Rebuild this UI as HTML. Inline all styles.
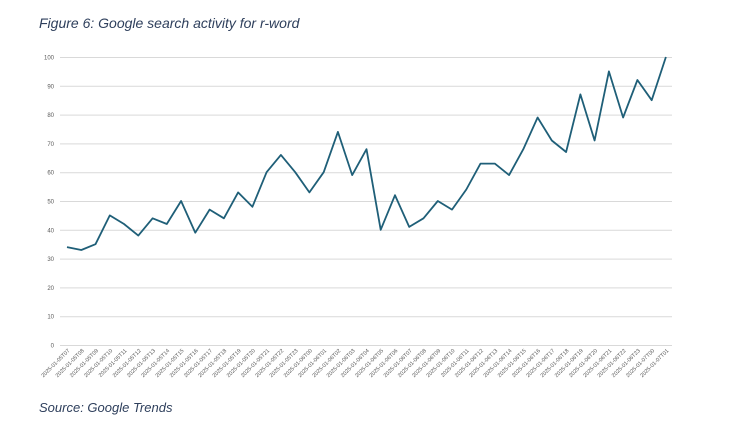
<!DOCTYPE html>
<html><head><meta charset="utf-8"><style>
body{margin:0;background:#fff;width:743px;height:431px;overflow:hidden}
</style></head><body>
<svg width="743" height="431" xmlns="http://www.w3.org/2000/svg" font-family="Liberation Sans, sans-serif">
<text x="39" y="28" font-size="14" font-style="italic" fill="#2e3f5c">Figure 6: Google search activity for r-word</text>
<g stroke="#d9d9d9" stroke-width="1">
<line x1="60" x2="672" y1="345.5" y2="345.5"/><line x1="60" x2="672" y1="316.7" y2="316.7"/><line x1="60" x2="672" y1="287.9" y2="287.9"/><line x1="60" x2="672" y1="259.1" y2="259.1"/><line x1="60" x2="672" y1="230.3" y2="230.3"/><line x1="60" x2="672" y1="201.5" y2="201.5"/><line x1="60" x2="672" y1="172.7" y2="172.7"/><line x1="60" x2="672" y1="143.9" y2="143.9"/><line x1="60" x2="672" y1="115.1" y2="115.1"/><line x1="60" x2="672" y1="86.3" y2="86.3"/><line x1="60" x2="672" y1="57.5" y2="57.5"/>
</g>
<g font-size="6" fill="#595959" text-anchor="end">
<text x="54" y="347.5">0</text><text x="54" y="318.7">10</text><text x="54" y="289.9">20</text><text x="54" y="261.1">30</text><text x="54" y="232.3">40</text><text x="54" y="203.5">50</text><text x="54" y="174.7">60</text><text x="54" y="145.9">70</text><text x="54" y="117.1">80</text><text x="54" y="88.3">90</text><text x="54" y="59.5">100</text>
</g>
<polyline fill="none" stroke="#1f5f78" stroke-width="1.8" stroke-linejoin="round" points="67,247.1 81.3,250 95.5,244.2 109.8,215.4 124,224 138.3,235.6 152.6,218.3 166.8,224 181.1,201 195.3,232.7 209.6,209.6 223.9,218.3 238.1,192.4 252.4,206.8 266.6,172.2 280.9,154.9 295.2,172.2 309.4,192.4 323.7,172.2 337.9,131.9 352.2,175.1 366.5,149.2 380.7,229.8 395,195.2 409.2,226.9 423.5,218.3 437.8,201 452,209.6 466.3,189.5 480.5,163.6 494.8,163.6 509.1,175.1 523.3,149.2 537.6,117.5 551.8,140.5 566.1,152 580.4,94.4 594.6,140.5 608.9,71.4 623.1,117.5 637.4,80 651.7,100.2 665.9,57"/>
<g font-size="5.5" fill="#595959" text-anchor="end" id="xl"></g>
<text x="39" y="412" font-size="13" font-style="italic" fill="#2e3f5c">Source: Google Trends</text>
<script>
var g=document.getElementById('xl'),labs=[];
for(var h=7;h<=23;h++)labs.push('2025-01-05T'+(h<10?'0':'')+h);
for(var h=0;h<=23;h++)labs.push('2025-01-06T'+(h<10?'0':'')+h);
labs.push('2025-01-07T00','2025-01-07T01');
labs.forEach(function(l,i){var x=67+i*14.26+3,y=351;
var t=document.createElementNS('http://www.w3.org/2000/svg','text');
t.setAttribute('x',x);t.setAttribute('y',y);t.setAttribute('transform','rotate(-45 '+x+' '+y+')');t.textContent=l;g.appendChild(t);});
</script>
</svg>
</body></html>
